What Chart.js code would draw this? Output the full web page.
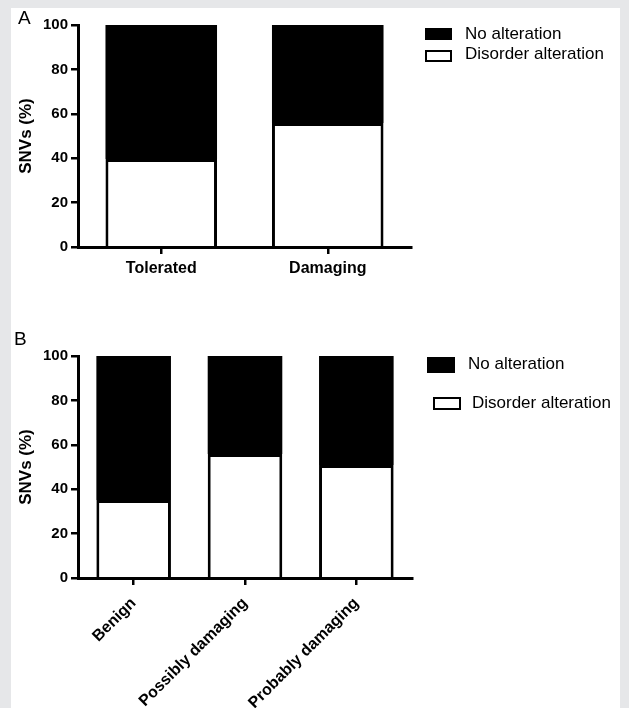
<!DOCTYPE html>
<html>
<head>
<meta charset="utf-8">
<script src="https://cdn.jsdelivr.net/npm/chart.js@4.4.1/dist/chart.umd.min.js"></script>
<style>
  html, body { margin: 0; padding: 0; }
  body { width: 629px; height: 708px; background: #e6e7e9; position: relative; overflow: hidden; font-family: "Liberation Sans", Arial, sans-serif; }
  #sheet { position: absolute; left: 11px; top: 8px; width: 609px; height: 700px; background: #fff; }
  canvas { position: absolute; }
  .txt { position: absolute; line-height: 20px; white-space: nowrap; color: #000; }
  .letter { font-size: 19px; }
  .leg { font-size: 17px; }
  .box { position: absolute; box-sizing: border-box; }
  .box.filled { background: #000; }
  .box.open { background: #fff; border: 2.5px solid #000; }
</style>
</head>
<body>
<div id="sheet"></div>
<canvas id="chartA" width="609" height="282" style="left:11px;top:8px;width:609px;height:282px"></canvas>
<canvas id="chartB" width="609" height="418" style="left:11px;top:290px;width:609px;height:418px"></canvas>

<div class="txt letter" style="left:18px;top:8px">A</div>
<div class="txt letter" style="left:14px;top:329px">B</div>

<div class="box filled" style="left:425px;top:28px;width:27px;height:12px"></div>
<div class="txt leg" style="left:465px;top:24px">No alteration</div>
<div class="box open" style="left:425px;top:50px;width:27px;height:12px"></div>
<div class="txt leg" style="left:465px;top:44px">Disorder alteration</div>

<div class="box filled" style="left:427px;top:357px;width:28px;height:16px"></div>
<div class="txt leg" style="left:468px;top:354px">No alteration</div>
<div class="box open" style="left:433px;top:397px;width:28px;height:13px"></div>
<div class="txt leg" style="left:472px;top:393px">Disorder alteration</div>

<script>
// panel A (SIFT)
const categoriesA = ['Tolerated', 'Damaging'];
const disorderA = [39.5, 56];
const noAlterationA = [60.5, 44];

// panel B (PolyPhen)
const categoriesB = ['Benign', 'Possibly damaging', 'Probably damaging'];
const disorderB = [35, 56, 51];
const noAlterationB = [65, 44, 49];

const yMax = 100;
const yStep = 20;
const yTitle = 'SNVs (%)';

const FONT = '"Liberation Sans", Arial, sans-serif';

// snap the bar ends to whole pixels so the stacked segments meet without a seam
const snapBars = {
    id: 'snapBars',
    afterDatasetsUpdate(chart) {
        chart.data.datasets.forEach((ds, i) => {
            chart.getDatasetMeta(i).data.forEach(el => {
                el.y = Math.round(el.y);
                el.base = Math.round(el.base);
            });
        });
    }
};

function makeChart(canvasId, labels, disorder, noAlt, opts) {
    const chartData = {
        labels: labels,
        datasets: [{
            label: 'Disorder alteration',
            data: disorder,
            backgroundColor: '#ffffff',
            borderColor: '#000000',
            borderWidth: 3
        }, {
            label: 'No alteration',
            data: noAlt,
            backgroundColor: '#000000',
            borderWidth: 0
        }]
    };

    const config = {
        type: 'bar',
        data: chartData,
        plugins: [snapBars],
        options: {
            responsive: false,
            animation: false,
            devicePixelRatio: 1,
            barPercentage: 0.67,
            categoryPercentage: 1,
            layout: {
                padding: { left: 0, right: opts.padRight, top: opts.padTop, bottom: 0 }
            },
            plugins: {
                legend: { display: false },
                tooltip: { enabled: false }
            },
            scales: {
                x: {
                    stacked: true,
                    grid: {
                        offset: false,
                        drawOnChartArea: false,
                        color: '#000',
                        lineWidth: 2.5,
                        tickLength: 7
                    },
                    border: { display: true, color: '#000', width: 3 },
                    ticks: {
                        color: '#000',
                        font: { family: FONT, size: 16, weight: 'bold' },
                        padding: opts.xPad,
                        maxRotation: opts.rotation,
                        minRotation: opts.rotation,
                        autoSkip: false
                    },
                    afterFit: s => { s.height = opts.xHeight; }
                },
                y: {
                    stacked: true,
                    min: 0,
                    max: yMax,
                    grid: {
                        drawOnChartArea: false,
                        color: '#000',
                        lineWidth: 2.5,
                        tickLength: 7
                    },
                    border: { display: true, color: '#000', width: 3 },
                    ticks: {
                        stepSize: yStep,
                        color: '#000',
                        padding: 3,
                        font: { family: FONT, size: 15, weight: 'bold' }
                    },
                    title: {
                        display: true,
                        text: yTitle,
                        color: '#000',
                        font: { family: FONT, size: 17, weight: 'bold' },
                        padding: { top: 5, bottom: 0 }
                    },
                    afterFit: s => { s.width = 67; }
                }
            }
        }
    };

    const ctx = document.getElementById(canvasId).getContext('2d');
    return new Chart(ctx, config);
}

makeChart('chartA', categoriesA, disorderA, noAlterationA,
    { padRight: 209, padTop: 17, xHeight: 43, xPad: 5, rotation: 0 });
makeChart('chartB', categoriesB, disorderB, noAlterationB,
    { padRight: 208, padTop: 66, xHeight: 130, xPad: 9, rotation: 45 });
</script>
</body>
</html>
